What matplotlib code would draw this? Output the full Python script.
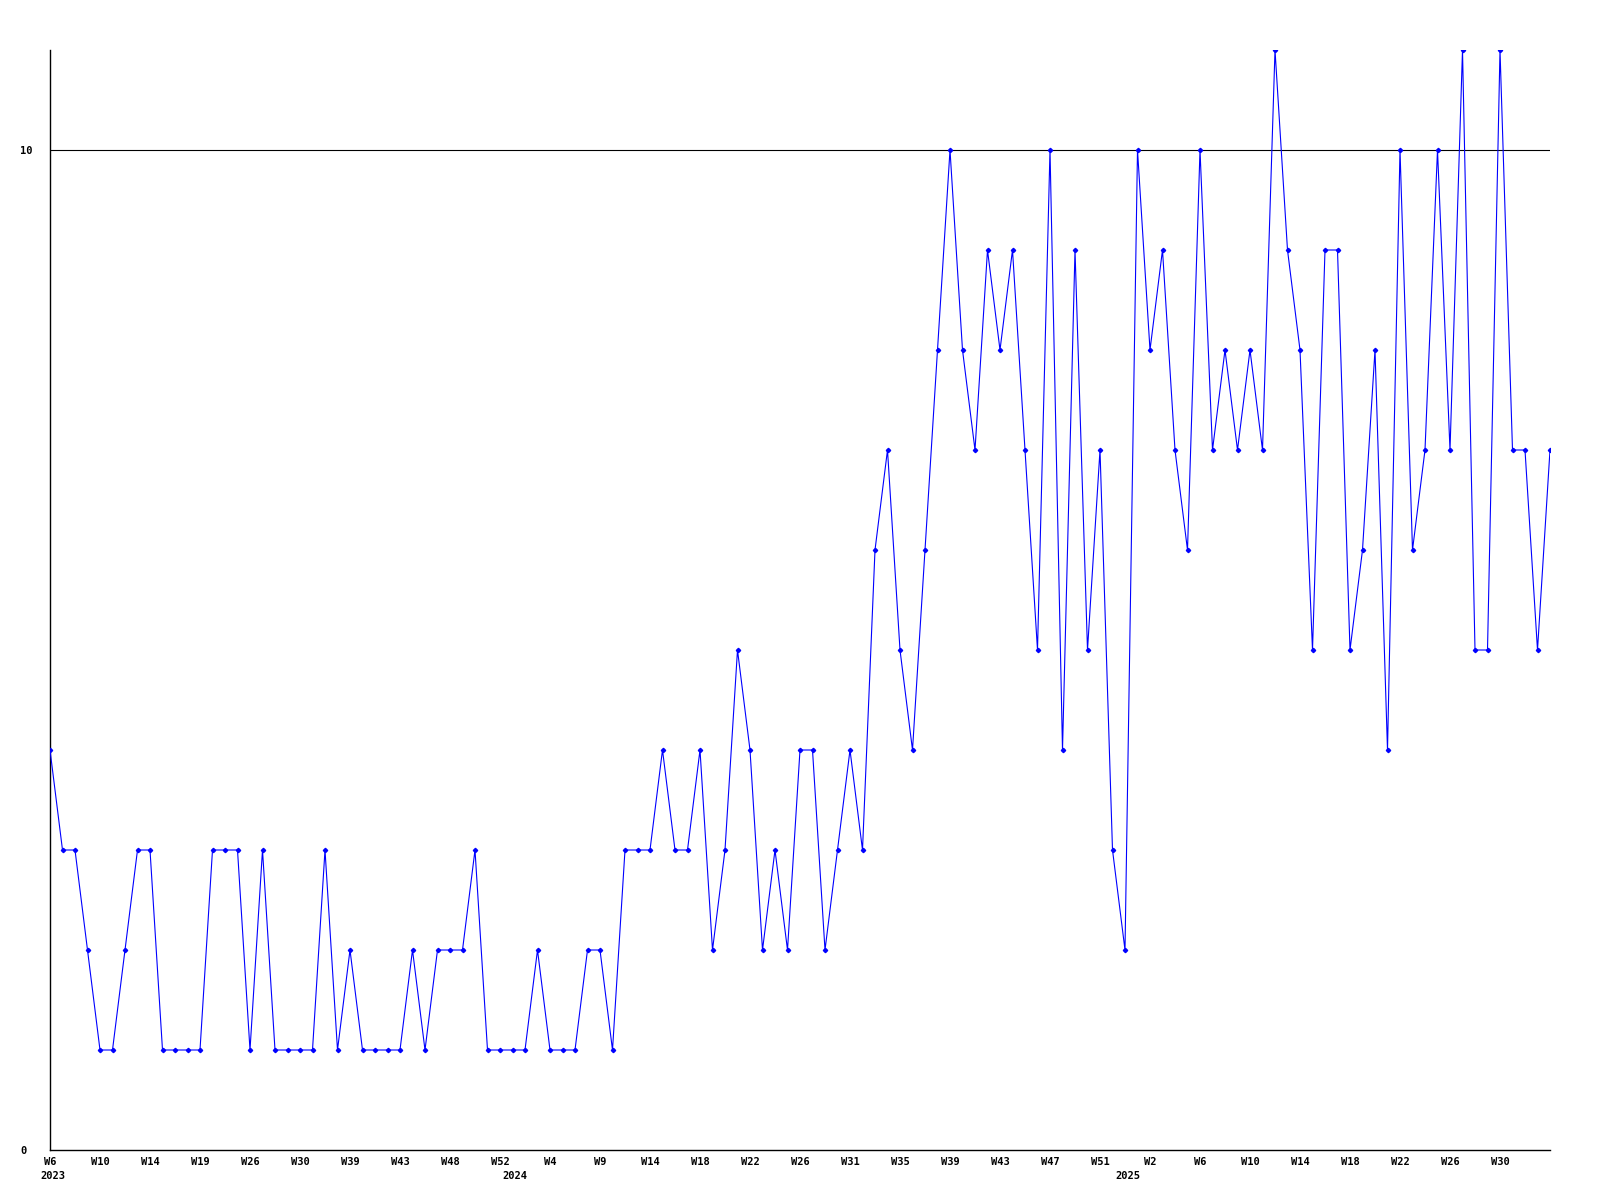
import matplotlib
matplotlib.use('Agg')
from matplotlib import pyplot as plt

# weekly counts, 2023 W6 .. 2025 W34
counts = [4, 3, 3, 2, 1, 1, 2, 3, 3, 1,
          1, 1, 1, 3, 3, 3, 1, 3, 1, 1,
          1, 1, 3, 1, 2, 1, 1, 1, 1, 2,
          1, 2, 2, 2, 3, 1, 1, 1, 1, 2,
          1, 1, 1, 2, 2, 1, 3, 3, 3, 4,
          3, 3, 4, 2, 3, 5, 4, 2, 3, 2,
          4, 4, 2, 3, 4, 3, 6, 7, 5, 4,
          6, 8, 10, 8, 7, 9, 8, 9, 7, 5,
          10, 4, 9, 5, 7, 3, 2, 10, 8, 9,
          7, 6, 10, 7, 8, 7, 8, 7, 11, 9,
          8, 5, 9, 9, 5, 6, 8, 4, 10, 6,
          7, 10, 7, 11, 5, 5, 11, 7, 7, 5,
          7]

week_labels = ['W6', 'W10', 'W14', 'W19', 'W26', 'W30', 'W39', 'W43', 'W48', 'W52',
               'W4', 'W9', 'W14', 'W18', 'W22', 'W26', 'W31', 'W35', 'W39', 'W43',
               'W47', 'W51', 'W2', 'W6', 'W10', 'W14', 'W18', 'W22', 'W26', 'W30']
label_step = 4

years = ['2023', '2024', '2025']
year_start = [0, 37, 86]

font = {'family': 'DejaVu Sans Mono', 'weight': 'bold', 'size': 7.5}

fig = plt.figure(figsize=(16, 12), dpi=100)
ax = fig.add_axes([50 / 1600, 50 / 1200, 1500 / 1600, 1100 / 1200])

x = list(range(len(counts)))
ax.axhline(10, color='black', lw=0.8, zorder=1)
ax.plot(x, counts, color='#0000ff', lw=0.8, marker='D', ms=2.2, zorder=3)

ax.set_xlim(0, len(counts) - 1)
ax.set_ylim(0, 11)

ax.spines['top'].set_visible(False)
ax.spines['right'].set_visible(False)
ax.spines['left'].set_linewidth(1)
ax.spines['bottom'].set_linewidth(1)

ax.set_xticks(x[::label_step][:len(week_labels)])
ax.set_xticklabels(week_labels, fontdict=font)
ax.tick_params(axis='x', length=0, pad=5)

ax.set_yticks([0, 10])
ax.set_yticklabels(['0', '10'], fontdict=font, ha='left')
ax.tick_params(axis='y', length=0, pad=21.5)

for yr, pos in zip(years, year_start):
    ax.annotate(yr, xy=(pos, 0), xycoords=('data', 'axes fraction'),
                xytext=(2, -15), textcoords='offset points',
                ha='center', va='top', **font)

plt.savefig('out.png', dpi=100)
